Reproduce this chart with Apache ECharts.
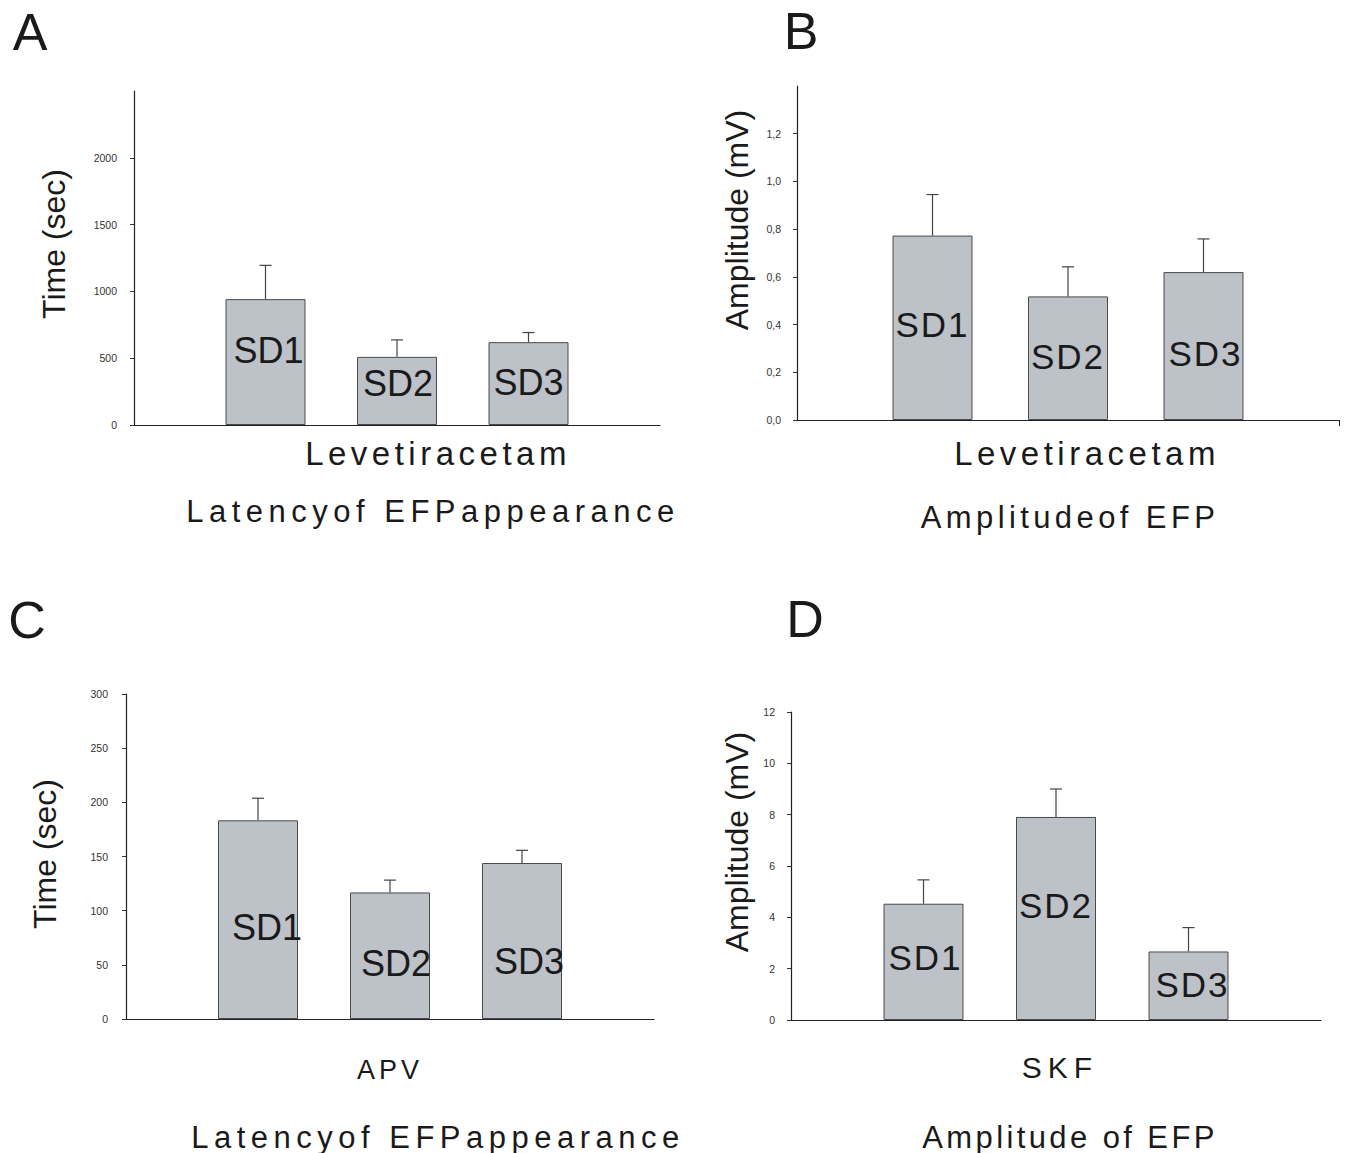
<!DOCTYPE html>
<html><head><meta charset="utf-8">
<script src="https://cdn.jsdelivr.net/npm/echarts@6/dist/echarts.min.js"></script>
<style>html,body{margin:0;padding:0;background:#fff}#c{width:1348px;height:1153px}</style>
</head><body><div id="c"></div>
<script>
// ---- data ----
const categories = ['SD1', 'SD2', 'SD3'];
const latencyLev = [942, 510, 620];
const latencyLevErr = [253, 127, 72];
const ampLev = [0.773, 0.518, 0.620];
const ampLevErr = [0.172, 0.124, 0.139];
const latencyApv = [183.4, 116.8, 144.0];
const latencyApvErr = [20.4, 11.4, 11.7];
const ampSkf = [4.53, 7.91, 2.67];
const ampSkfErr = [0.93, 1.09, 0.93];
const ticksA = [0, 500, 1000, 1500, 2000];
const ticksB = [0, 0.2, 0.4, 0.6, 0.8, 1.0, 1.2];
const ticksC = [0, 50, 100, 150, 200, 250, 300];
const ticksD = [0, 2, 4, 6, 8, 10, 12];

// ---- layout ----
const FONT = 'Liberation Sans, Arial, sans-serif';
const panels = [
  { grid: {left: 134, top: 91, width: 526, height: 334}, vals: latencyLev, errs: latencyLevErr, ticks: ticksA,
    min: 0, max: 2500, interval: 500, fmt: v => String(v), margin: 17,
    labelDy: [51, 27, 40], labelDx: [3, 1, 0], labelSize: 36, capHalf: 6, endTick: false },
  { grid: {left: 797, top: 86, width: 542, height: 334}, vals: ampLev, errs: ampLevErr, ticks: ticksB,
    min: 0, max: 1.4, interval: 0.2, fmt: v => v.toFixed(1).replace('.', ','), margin: 16,
    labelDy: [89, 60, 81], labelDx: [0, 0, 2], labelSize: 35, capHalf: 6, endTick: true },
  { grid: {left: 126, top: 694, width: 528, height: 325}, vals: latencyApv, errs: latencyApvErr, ticks: ticksC,
    min: 0, max: 300, interval: 50, fmt: v => String(v), margin: 18,
    labelDy: [107, 71, 98], labelDx: [9, 6, 7], labelSize: 36, capHalf: 6, endTick: false },
  { grid: {left: 791, top: 712, width: 530, height: 308}, vals: ampSkf, errs: ampSkfErr, ticks: ticksD,
    min: 0, max: 12, interval: 2, fmt: v => String(v), margin: 16,
    labelDy: [54, 89, 33], labelDx: [2, 0, 4], labelSize: 35, capHalf: 6, endTick: false }
];

function renderErr(params, api) {
  const x = api.value(0), lo = api.value(1), hi = api.value(2);
  const p0 = api.coord([x, lo]), p1 = api.coord([x, hi]);
  const hw = 6;
  const st = {stroke: '#444', lineWidth: 1.2};
  return {type: 'group', children: [
    {type: 'line', shape: {x1: p0[0], y1: p0[1], x2: p1[0], y2: p1[1]}, style: st},
    {type: 'line', shape: {x1: p1[0] - hw, y1: p1[1], x2: p1[0] + hw, y2: p1[1]}, style: st}
  ]};
}

const grids = [], xAxes = [], yAxes = [], series = [];
panels.forEach((p, i) => {
  grids.push(Object.assign({containLabel: false}, p.grid));
  xAxes.push({
    type: 'value', gridIndex: i, min: 0, max: 4,
    axisLine: {show: true, lineStyle: {color: '#222', width: 1.2}},
    axisTick: p.endTick ? {show: true, length: 6, customValues: [4], lineStyle: {color: '#222'}} : {show: false},
    axisLabel: {show: false}, splitLine: {show: false}
  });
  yAxes.push({
    type: 'value', gridIndex: i, min: p.min, max: p.max, interval: p.interval,
    axisLine: {show: true, lineStyle: {color: '#222', width: 1.2}},
    axisTick: {show: true, length: 4, inside: false, customValues: p.ticks, lineStyle: {color: '#333'}},
    axisLabel: {show: true, customValues: p.ticks, formatter: p.fmt, fontSize: 10.5, color: '#333',
      fontFamily: FONT, margin: p.margin},
    splitLine: {show: false}
  });
  series.push({
    type: 'bar', xAxisIndex: i, yAxisIndex: i, barWidth: 80,
    itemStyle: {color: '#bdc1c8', borderColor: '#4a4a4a', borderWidth: 1},
    data: p.vals.map((v, j) => ({
      value: [j + 1, v],
      label: {position: ['50%', p.labelDy[j]], offset: [p.labelDx[j], 0]}
    })),
    label: {show: true, formatter: (d) => categories[d.dataIndex], fontSize: p.labelSize,
      fontFamily: FONT, color: '#1a1a1a', align: 'center', verticalAlign: 'middle'},
    z: 2
  });
  series.push({
    type: 'custom', xAxisIndex: i, yAxisIndex: i, renderItem: renderErr,
    encode: {x: 0, y: [1, 2]},
    data: p.vals.map((v, j) => [j + 1, v, v + p.errs[j]]), z: 3
  });
});

function txt(text, x, y, size, rot) {
  return {type: 'text', x: x, y: y, rotation: rot || 0,
    style: {text: text, x: 0, y: 0, fontSize: size, fontFamily: FONT, fill: '#1a1a1a',
      align: 'center', verticalAlign: 'middle'}};
}
const graphics = [
  txt('A', 30, 32, 52), txt('B', 801, 31, 52), txt('C', 27, 620, 52), txt('D', 805, 619, 52),
  txt('Time (sec)', 54, 244, 32, Math.PI / 2),
  txt('Amplitude (mV)', 737, 220, 32, Math.PI / 2),
  txt('Time (sec)', 45, 854, 32, Math.PI / 2),
  txt('Amplitude (mV)', 737, 842, 32, Math.PI / 2),
  txt('Levetiracetam', 438, 453, 33),
  txt('Latencyof EFPappearance', 433, 511, 31),
  txt('Levetiracetam', 1087, 453, 33),
  txt('Amplitudeof EFP', 1070, 517, 31),
  txt('APV', 390, 1070, 27),
  txt('Latencyof EFPappearance', 438, 1137, 31),
  txt('SKF', 1060, 1067, 30),
  txt('Amplitude of EFP', 1070, 1137, 31)
];

const chart = echarts.init(document.getElementById('c'), null, {renderer: 'svg'});
chart.setOption({
  animation: false,
  backgroundColor: '#fff',
  grid: grids, xAxis: xAxes, yAxis: yAxes, series: series, graphic: graphics
});

const spacing = {
  'Levetiracetam': 4.5, 'Latencyof EFPappearance': 5.5, 'Amplitudeof EFP': 4.4,
  'Amplitude of EFP': 3.4, 'APV': 4, 'SKF': 6
};
function applySpacing() {
  document.querySelectorAll('#c svg text').forEach(el => {
    const t = el.textContent;
    if (spacing[t] !== undefined) el.setAttribute('letter-spacing', spacing[t] + 'px');
    else if (categories.indexOf(t) >= 0) {
      const r = el.getBoundingClientRect();
      if (r.left > 700) el.setAttribute('letter-spacing', '2px');
    }
  });
}
applySpacing();
chart.on('finished', applySpacing);
setTimeout(applySpacing, 50);
</script>
</body></html>
